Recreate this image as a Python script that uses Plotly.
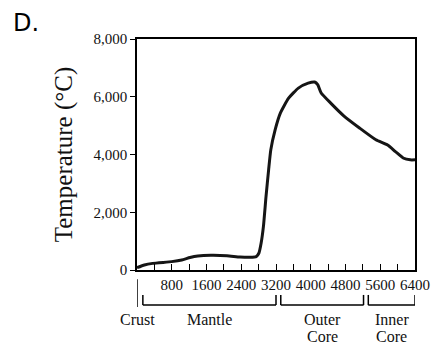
import plotly.graph_objects as go

# Depth (km) and temperature (°C)
depth = [0, 170, 360, 800, 1030, 1220, 1400, 1700, 2070, 2370, 2600, 2745, 2805, 2857,
         2910, 2970, 3030, 3080, 3180, 3300, 3490, 3715, 3940, 4090, 4160, 4240, 4460,
         4760, 5130, 5500, 5770, 5950, 6140, 6290, 6400]
temp = [80, 175, 230, 290, 345, 430, 485, 510, 495, 450, 440, 465, 580, 925,
        1500, 2540, 3470, 4160, 4850, 5430, 5950, 6300, 6470, 6510, 6420, 6130, 5780,
        5340, 4910, 4510, 4330, 4100, 3870, 3815, 3815]

x_ticks = list(range(0, 6401, 400))
x_labels = [str(v) if (v % 800 == 0 and v > 0) else "" for v in x_ticks]
y_ticks = [0, 2000, 4000, 6000, 8000]

region_lines = [["Crust"], ["Mantle"], ["Outer", "Core"], ["Inner", "Core"]]
region_start = [0, 135, 3310, 5325]
region_end = [0, 3200, 5215, 6400]

fig = go.Figure()
fig.add_trace(go.Scatter(x=depth, y=temp, mode="lines",
                         line=dict(color="#151515", width=3, shape="spline", smoothing=0.5),
                         hoverinfo="skip", showlegend=False))

serif = "Liberation Serif"
ink = "#111111"
shapes = []
annotations = []
for lines, s, e in zip(region_lines, region_start, region_end):
    if s == e:
        shapes.append(dict(type="line", xref="x", yref="paper", x0=s, x1=s, y0=-0.04, y1=-0.16,
                           line=dict(color="black", width=1.5)))
    else:
        for xx in (s, e):
            shapes.append(dict(type="line", xref="x", yref="paper", x0=xx, x1=xx, y0=-0.108, y1=-0.152,
                               line=dict(color="black", width=1.5)))
        shapes.append(dict(type="line", xref="x", yref="paper", x0=s, x1=e, y0=-0.152, y1=-0.152,
                           line=dict(color="black", width=1.5)))
    for i, txt in enumerate(lines):
        annotations.append(dict(text=txt, x=(s + e) / 2, y=-0.216 - 0.074 * i, xref="x", yref="paper",
                                xanchor="center", yanchor="middle", showarrow=False,
                                font=dict(family=serif, size=16, color=ink)))

annotations.append(dict(text="D.", xref="paper", yref="paper", x=-0.455, y=1.0,
                        xanchor="left", yanchor="bottom", showarrow=False,
                        font=dict(family="DejaVu Sans", size=24, color="black")))

fig.update_layout(
    width=442, height=348,
    margin=dict(l=137, r=19, t=39, b=78),
    paper_bgcolor="white", plot_bgcolor="white",
    shapes=shapes, annotations=annotations,
    xaxis=dict(range=[0, 6400], tickmode="array", tickvals=x_ticks, ticktext=x_labels,
               ticks="inside", ticklen=6, tickcolor="black", tickwidth=1,
               showline=True, mirror=True, linecolor="black", linewidth=1.5,
               showgrid=False, zeroline=False,
               tickfont=dict(family=serif, size=15, color=ink)),
    yaxis=dict(range=[0, 8000], tickmode="array", tickvals=y_ticks, tickformat=",d",
               ticks="outside", ticklen=5, tickcolor="black", tickwidth=1,
               showline=True, mirror=True, linecolor="black", linewidth=1.5,
               showgrid=False, zeroline=False,
               tickfont=dict(family=serif, size=15, color=ink),
               title=dict(text="Temperature (°C)", standoff=14,
                          font=dict(family=serif, size=25, color=ink))),
)

fig.write_html("out.html")
